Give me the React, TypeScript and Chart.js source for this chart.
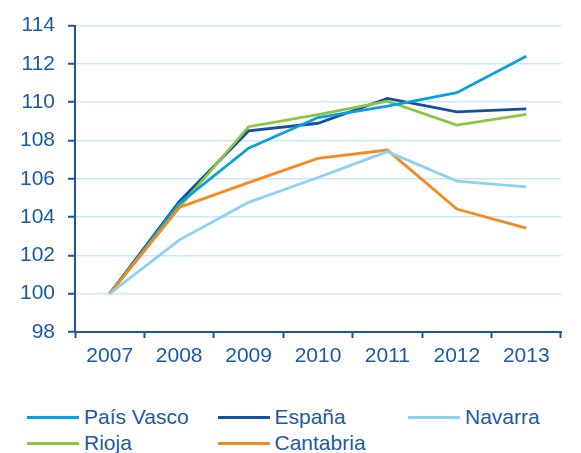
import React, { useEffect, useRef } from "react";
import { Chart, registerables } from "chart.js";

Chart.register(...registerables);

const years = ["2007", "2008", "2009", "2010", "2011", "2012", "2013"];
const paisVasco = [100, 104.7, 107.6, 109.2, 109.8, 110.5, 112.4];
const espana = [100, 104.8, 108.5, 108.9, 110.2, 109.5, 109.65];
const navarra = [100, 102.8, 104.77, 106.07, 107.42, 105.88, 105.58];
const rioja = [100, 104.5, 108.72, 109.35, 110.05, 108.8, 109.36];
const cantabria = [100, 104.5, 105.8, 107.07, 107.5, 104.42, 103.42];

const seriesNames = ["País Vasco", "España", "Navarra", "Rioja", "Cantabria"];
const seriesData = [paisVasco, espana, navarra, rioja, cantabria];
const seriesColors = ["#0AA0E0", "#164F9E", "#8ED1F0", "#8CC63E", "#F58A1F"];
const drawOrder = [2, 4, 0, 3, 1];

const textColor = "#1C5AA8";
const axisColor = "#1B55A6";
const gridColor = "#C8E9F7";
const fontFamily = "'Liberation Sans', Arial, sans-serif";

export default function App() {
  const ref = useRef<HTMLCanvasElement>(null);
  useEffect(() => {
    if (!ref.current) return;
    const chart = new Chart(ref.current, {
      type: "line",
      data: {
        labels: years,
        datasets: drawOrder.map((i) => ({
          label: seriesNames[i],
          data: seriesData[i],
          borderColor: seriesColors[i],
          backgroundColor: seriesColors[i],
          borderWidth: 2.8,
          pointRadius: 0,
          tension: 0,
          fill: false,
        })),
      },
      options: {
        animation: false,
        responsive: false,
        maintainAspectRatio: false,
        layout: { padding: { top: 24, right: 20, left: 0, bottom: 0 } },
        plugins: { legend: { display: false }, tooltip: { enabled: false } },
        scales: {
          x: {
            offset: true,
            grid: {
              offset: true,
              drawOnChartArea: false,
              drawTicks: true,
              tickLength: 6,
              tickColor: axisColor,
              tickWidth: 2,
            },
            border: { color: axisColor, width: 2 },
            ticks: {
              color: textColor,
              font: { family: fontFamily, size: 21 },
              padding: 6,
              maxRotation: 0,
            },
            afterFit: (s: any) => {
              s.height = 58;
            },
          },
          y: {
            min: 98,
            max: 114,
            ticks: {
              stepSize: 2,
              color: textColor,
              font: { family: fontFamily, size: 21 },
              padding: 13,
            },
            grid: {
              color: gridColor,
              lineWidth: 1.5,
              tickLength: 7,
              tickColor: axisColor,
              tickWidth: 2,
            },
            border: { color: axisColor, width: 2 },
            afterFit: (s: any) => {
              s.width = 75;
            },
          },
        },
      },
    });
    return () => chart.destroy();
  }, []);

  return (
    <div style={{ position: "absolute", left: 0, top: 0, width: 581, height: 453, background: "#fff", overflow: "hidden" }}>
      <canvas ref={ref} width={581} height={390} style={{ display: "block", width: 581, height: 390 }} />
      <div
        style={{
          position: "absolute",
          left: 27,
          top: 404,
          display: "grid",
          gridTemplateColumns: "190.5px 190.5px 190.5px",
          gridAutoRows: "26px",
          fontFamily,
          fontSize: 21,
          color: textColor,
        }}
      >
        {seriesNames.map((name, i) => (
          <div key={name} style={{ display: "flex", alignItems: "center", whiteSpace: "nowrap" }}>
            <span style={{ display: "inline-block", width: 52, height: 3, background: seriesColors[i], marginRight: 5 }} />
            <span>{name}</span>
          </div>
        ))}
      </div>
    </div>
  );
}
